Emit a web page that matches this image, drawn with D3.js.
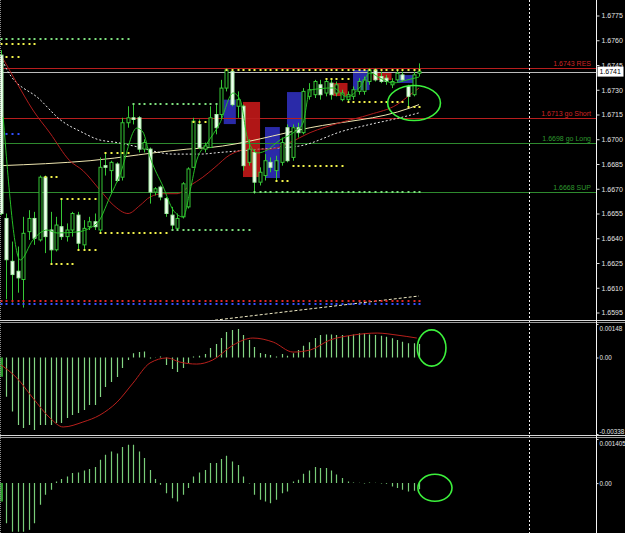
<!DOCTYPE html>
<html>
<head>
<meta charset="utf-8">
<script src="https://cdn.jsdelivr.net/npm/d3@7"></script>
<style>
  html, body { margin: 0; padding: 0; background: #000; }
  svg { display: block; }
  text { font-family: "Liberation Sans", Arial, sans-serif; font-size: 7px; }
</style>
</head>
<body>
<div id="chart"></div>
<script>
// ---- price bars ----
const opens = [1.6751,1.6652,1.6626,1.6620,1.6615,1.6644,1.6652,1.6639,1.6677,1.6645,
  1.6633,1.6647,1.6641,1.6645,1.6654,1.6636,1.6647,1.6650,1.6645,1.6684,
  1.6681,1.6685,1.6677,1.6710,1.6713,1.6713,1.6694,1.6694,1.6668,1.6671,
  1.6664,1.6654,1.6646,1.6653,1.6659,1.6683,1.6709,1.6694,1.6695,1.6715,
  1.6715,1.6731,1.6741,1.6720,1.6720,1.6686,1.6692,1.6674,1.6678,1.6686,
  1.6681,1.6686,1.6707,1.6689,1.6707,1.6704,1.6726,1.6727,1.6733,1.6728,
  1.6734,1.6728,1.6724,1.6724,1.6726,1.6729,1.6729,1.6735,1.6742,1.6738,
  1.6737,1.6733,1.6736,1.6739,1.6732,1.6727,1.6740];
const highs = [1.6754,1.6655,1.6638,1.6635,1.6653,1.6657,1.6656,1.6678,1.6678,1.6656,
  1.6653,1.6664,1.6649,1.6656,1.6656,1.6651,1.6653,1.6655,1.6689,1.6692,
  1.6687,1.6686,1.6713,1.6720,1.6721,1.6714,1.6700,1.6695,1.6671,1.6672,
  1.6665,1.6659,1.6655,1.6674,1.6683,1.6713,1.6712,1.6698,1.6720,1.6721,
  1.6736,1.6743,1.6742,1.6729,1.6721,1.6700,1.6694,1.6683,1.6691,1.6689,
  1.6690,1.6701,1.6709,1.6709,1.6710,1.6731,1.6734,1.6736,1.6736,1.6737,
  1.6736,1.6735,1.6730,1.6729,1.6732,1.6737,1.6738,1.6743,1.6743,1.6741,
  1.6739,1.6737,1.6742,1.6741,1.6733,1.6741,1.6746];
const lows = [1.6654,1.6603,1.6601,1.6607,1.6598,1.6639,1.6636,1.6638,1.6631,1.6624,
  1.6632,1.6639,1.6638,1.6641,1.6633,1.6633,1.6645,1.6645,1.6643,1.6678,
  1.6667,1.6674,1.6675,1.6707,1.6709,1.6692,1.6692,1.6661,1.6666,1.6663,
  1.6653,1.6645,1.6645,1.6652,1.6658,1.6683,1.6694,1.6692,1.6695,1.6703,
  1.6712,1.6729,1.6720,1.6713,1.6681,1.6684,1.6667,1.6672,1.6675,1.6680,
  1.6675,1.6684,1.6686,1.6687,1.6701,1.6703,1.6724,1.6725,1.6724,1.6726,
  1.6724,1.6726,1.6723,1.6722,1.6724,1.6727,1.6727,1.6733,1.6735,1.6734,
  1.6733,1.6731,1.6735,1.6735,1.6720,1.6726,1.6738];
const closes = [1.6655,1.6627,1.6618,1.6616,1.6643,1.6652,1.6640,1.6677,1.6641,1.6633,
  1.6648,1.6641,1.6645,1.6655,1.6637,1.6646,1.6650,1.6647,1.6683,1.6683,
  1.6686,1.6675,1.6710,1.6713,1.6712,1.6694,1.6698,1.6668,1.6670,1.6665,
  1.6655,1.6648,1.6652,1.6673,1.6682,1.6711,1.6695,1.6696,1.6713,1.6707,
  1.6731,1.6742,1.6721,1.6724,1.6684,1.6694,1.6674,1.6680,1.6687,1.6683,
  1.6687,1.6698,1.6687,1.6707,1.6704,1.6729,1.6730,1.6735,1.6727,1.6735,
  1.6727,1.6733,1.6728,1.6727,1.6730,1.6735,1.6736,1.6742,1.6736,1.6735,
  1.6735,1.6735,1.6740,1.6736,1.6726,1.6739,1.6741];

// moving averages, as [bar, price] points
const fastMa = [[0.4,1.67135],[3.5,1.66268],[5.8,1.66389],[8.4,1.6645],[10.2,1.66432],[13.8,1.66438],
  [17.5,1.66492],[19.8,1.6665],[21.6,1.66783],[24.7,1.67068],[25.8,1.67044],[27.1,1.66892],
  [29.5,1.66711],[31.3,1.66571],[33.1,1.66529],[34.4,1.66692],[35.6,1.66874],[37.5,1.66977],
  [39.8,1.67098],[42.2,1.6728],[43.5,1.67238],[44.9,1.66995],[46.7,1.66917],[48.4,1.66935],
  [50.7,1.66995],[53.1,1.67038],[54.9,1.67098],[56.2,1.67298],[60.4,1.67311],[62.9,1.67256],
  [65.3,1.67317],[67.1,1.67402],[68.9,1.67371],[71.3,1.67341],[73.8,1.67359],[76,1.67377]];
const redMa = [[0,1.6751],[2.9,1.6734],[5.8,1.67177],[8.9,1.67038],[12.5,1.6687],[14.9,1.6681],
  [18,1.66692],[20.4,1.66602],[23.1,1.6655],[25.3,1.6660],[27.1,1.6665],[29.5,1.6667],
  [32,1.6667],[34.4,1.6672],[36.7,1.6677],[38.9,1.6683],[41.6,1.66905],[45.3,1.6694],
  [48.9,1.6694],[52.5,1.6698],[56.2,1.6704],[61.6,1.6710],[67.1,1.6715],[72,1.6721],
  [74.4,1.6727],[76,1.6731]];
const dashMa = [[0,1.6750],[1.1,1.6742],[7.1,1.6724],[10.7,1.6712],[14.9,1.6704],[17.5,1.6700],
  [21.1,1.6698],[24,1.6696],[31.3,1.6691],[36.2,1.6691],[39.8,1.6692],[47.1,1.6694],
  [54.4,1.6696],[62.2,1.6705],[67.1,1.6709],[72.5,1.6713],[76,1.6716]];
const slowMa = [[0,1.6684],[16.2,1.6687],[33.8,1.6694],[38,1.6695],[56.2,1.6707],[74.4,1.6719],[76,1.6721]];
const trendLine = [[38,1.6590],[76,1.6605]];

// dotted level buffers: [fromBar, toBar, price, kind]
const dotLevels = [
  [0,23,1.67605,'green'],[24,39,1.67214,'green'],[31,45,1.6645,'green'],[46,76,1.6668,'green'],
  [0,6,1.67577,'yellow'],[1,3,1.67498,'yellow'],[8,10,1.66771,'yellow'],[11,17,1.66638,'yellow'],
  [18,30,1.66432,'yellow'],[14,17,1.66329,'yellow'],[9,13,1.66244,'yellow'],[19,23,1.66917,'yellow'],
  [35,37,1.67105,'yellow'],[41,76,1.6742,'yellow'],[59,63,1.67365,'yellow'],[63,73,1.67226,'yellow'],
  [74,76,1.67195,'yellow'],[53,62,1.66838,'yellow'],[50,52,1.66747,'yellow'],
  [0,76,1.6602,'red'],[0,76,1.66002,'blue'],[1,3,1.67032,'blue']
];

// range boxes: [fromBar, toBar, top, bottom, kind]
const boxes = [
  [40.5,42.7,1.6724,1.67092,'blue'],[44,47.1,1.67226,1.66771,'red'],[48,50.7,1.67074,1.66765,'blue'],
  [52,54.7,1.67286,1.67074,'blue'],[60.4,63,1.67341,1.67262,'red'],[64,67,1.6742,1.67298,'blue'],
  [67.6,71,1.67408,1.67359,'red'],[72,75,1.67389,1.67341,'blue']
];

const levels = [
  { price: 1.6743, label: '1.6743 RES', kind: 'red' },
  { price: 1.6713, label: '1.6713 go Short', kind: 'red' },
  { price: 1.6698, label: '1.6698 go Long', kind: 'green' },
  { price: 1.6668, label: '1.6668 SUP', kind: 'green' }
];
const bidPrice = 1.6741;
const priceTicks = [1.6595,1.6610,1.6625,1.6640,1.6655,1.6670,1.6685,1.6700,1.6715,1.6730,1.6745,1.6760,1.6775];

// oscillator 1 (histogram + signal)
const macdHist = [-0.00085,-0.00173,-0.00239,-0.00298,-0.00311,-0.00298,-0.00320,-0.00298,-0.00298,-0.00298,
  -0.00289,-0.00289,-0.00267,-0.00254,-0.00245,-0.00232,-0.00210,-0.00210,-0.00174,-0.00130,
  -0.00108,-0.00086,-0.00046,-0.00011,0.00019,0.00024,0.00026,-0.00004,0.00001,0.00004,
  -0.00033,-0.00051,-0.00064,-0.00046,-0.00024,0.00004,0.00008,0.00015,0.00042,0.00060,
  0.00086,0.00113,0.00121,0.00126,0.00099,0.00077,0.00046,0.00020,0.00015,0.00011,
  0.00004,0.00015,0.00008,0.00019,0.00033,0.00052,0.00067,0.00086,0.00099,0.00102,
  0.00102,0.00099,0.00099,0.00096,0.00102,0.00107,0.00107,0.00102,0.00099,0.00096,
  0.00092,0.00085,0.00077,0.00070,0.00063,0.00063,0.00060];
const macdSignal = [[0,-0.00033],[2.9,-0.00091],[5.8,-0.00179],[8.9,-0.00267],[11.3,-0.00307],
  [14.9,-0.00285],[18,-0.00254],[21.1,-0.00197],[24,-0.00113],[27.1,-0.00024],[30.2,-0.00002],
  [32.5,-0.00020],[35.6,-0.00029],[38.5,-0.00011],[42.2,0.00055],[45.8,0.00086],[49.5,0.00068],
  [53.1,0.00024],[56.2,0.00033],[59.8,0.00077],[64,0.00099],[68.4,0.00108],[72,0.00099],[75.6,0.00086]];
const macdTicks = [0.00148, 0, -0.00338];
const macdLabels = ['0.00148', '0.00', '-0.00338'];

// oscillator 2 (histogram)
const oscHist = [-0.00059,-0.00128,-0.00155,-0.00155,-0.00155,-0.00149,-0.00128,-0.00069,-0.00037,-0.00021,
  0.00005,0.00013,0.00021,0.00032,0.00034,0.00040,0.00045,0.00051,0.00074,0.00090,
  0.00101,0.00094,0.00115,0.00122,0.00122,0.00101,0.00080,0.00042,0.00013,-0.00005,
  -0.00032,-0.00048,-0.00059,-0.00037,-0.00016,0.00021,0.00034,0.00042,0.00064,0.00064,
  0.00077,0.00087,0.00069,0.00058,0.00021,-0.00001,-0.00037,-0.00053,-0.00059,-0.00064,
  -0.00053,-0.00032,-0.00027,0.00005,0.00011,0.00030,0.00040,0.00051,0.00048,0.00048,
  0.00040,0.00027,0.00016,0.00005,0.00002,0.00001,-0.00001,0.00002,0.00001,-0.00001,
  -0.00002,-0.00011,-0.00016,-0.00021,-0.00027,-0.00024,-0.00020];
const oscTicks = [0.001405, 0];
const oscLabels = ['0.001405', '0.00'];

// highlight ellipses: [panel, bar, value, rBars, rValue]
const marks = [
  ['main', 75.1, 1.6722, 4.8, 0.00106],
  ['macd', 78.3, 0.00042, 2.6, 0.0008],
  ['osc', 78.9, -0.00015, 3.1, 0.00043]
];
const separatorBar = 96;

// ---- drawing ----
const W = 625, H = 533, AXIS_X = 596.5;
const colors = {
  green: '#7ee07e', yellow: '#f2f24a', red: '#e02828', blue: '#3050ff',
  boxBlue: '#2a2aa8', boxRed: '#b01616',
  lineRed: '#b81e1e', lineGreen: '#2e8a2e', textRed: '#d02424', textGreen: '#2f9a2f'
};

const svg = d3.select('#chart').append('svg').attr('width', W).attr('height', H)
  .style('background', '#000');

const x = d3.scaleLinear().domain([0, 96]).range([1, 529]);
const yMain = d3.scaleLinear().domain([1.6595, 1.6775]).range([312.5, 15.5]);
const yMacd = d3.scaleLinear().domain([-0.00338, 0.00148]).range([434, 324]);
const yOsc = d3.scaleLinear().domain([-0.00159, 0.001405]).range([533, 439]);
const panelY = { main: yMain, macd: yMacd, osc: yOsc };

const defs = svg.append('defs');
defs.append('clipPath').attr('id', 'clipMain').append('rect').attr('x', 0).attr('y', 0).attr('width', AXIS_X).attr('height', 320);
defs.append('clipPath').attr('id', 'clipMacd').append('rect').attr('x', 0).attr('y', 323).attr('width', AXIS_X).attr('height', 112);
defs.append('clipPath').attr('id', 'clipOsc').append('rect').attr('x', 0).attr('y', 439).attr('width', AXIS_X).attr('height', 94);

const main = svg.append('g').attr('clip-path', 'url(#clipMain)');

// boxes behind everything
main.selectAll('.box').data(boxes).enter().append('rect')
  .attr('x', d => x(d[0])).attr('width', d => x(d[1]) - x(d[0]))
  .attr('y', d => yMain(d[2])).attr('height', d => yMain(d[3]) - yMain(d[2]))
  .attr('fill', d => d[4] === 'red' ? colors.boxRed : colors.boxBlue);

// horizontal levels
main.selectAll('.level').data(levels).enter().append('line')
  .attr('x1', 0).attr('x2', AXIS_X)
  .attr('y1', d => Math.round(yMain(d.price)) + 0.5).attr('y2', d => Math.round(yMain(d.price)) + 0.5)
  .attr('stroke', d => d.kind === 'red' ? colors.lineRed : colors.lineGreen).attr('stroke-width', 1);
main.selectAll('.levelText').data(levels).enter().append('text')
  .attr('x', 591).attr('y', d => yMain(d.price) - 2)
  .attr('text-anchor', 'end')
  .attr('fill', d => d.kind === 'red' ? colors.textRed : colors.textGreen)
  .text(d => d.label);
main.append('line').attr('x1', 0).attr('x2', AXIS_X)
  .attr('y1', Math.round(yMain(bidPrice)) + 0.5).attr('y2', Math.round(yMain(bidPrice)) + 0.5)
  .attr('stroke', '#bcbcbc').attr('stroke-width', 1);

// moving averages
const priceLine = d3.line().x(d => x(d[0])).y(d => yMain(d[1])).curve(d3.curveMonotoneX);
main.append('path').attr('d', priceLine(slowMa)).attr('fill', 'none').attr('stroke', '#efe6b0').attr('stroke-width', 1);
main.append('path').attr('d', priceLine(dashMa)).attr('fill', 'none').attr('stroke', '#e8e8e8')
  .attr('stroke-width', 1).attr('stroke-dasharray', '2,2');
main.append('path').attr('d', priceLine(redMa)).attr('fill', 'none').attr('stroke', '#b01c1c').attr('stroke-width', 1);
main.append('path').attr('d', d3.line().x(d => x(d[0])).y(d => yMain(d[1]))(trendLine))
  .attr('fill', 'none').attr('stroke', '#f3eec8').attr('stroke-width', 1).attr('stroke-dasharray', '3,2');

// candles
const bars = d3.range(opens.length).map(i => ({ i, o: opens[i], h: highs[i], l: lows[i], c: closes[i] }));
main.selectAll('.wick').data(bars).enter().append('line')
  .attr('x1', d => Math.round(x(d.i)) + 0.5).attr('x2', d => Math.round(x(d.i)) + 0.5)
  .attr('y1', d => yMain(d.h)).attr('y2', d => yMain(d.l))
  .attr('stroke', '#36c836').attr('stroke-width', 1);
main.selectAll('.body').data(bars).enter().append('rect')
  .attr('x', d => Math.round(x(d.i)) - 1).attr('width', 3)
  .attr('y', d => yMain(Math.max(d.o, d.c)))
  .attr('height', d => Math.max(1, Math.abs(yMain(d.o) - yMain(d.c))))
  .attr('fill', d => d.c > d.o ? '#000' : '#f2fff2')
  .attr('stroke', d => d.c > d.o ? '#36c836' : '#a8eea8').attr('stroke-width', 1);

main.append('path').attr('d', priceLine(fastMa)).attr('fill', 'none').attr('stroke', '#26c026').attr('stroke-width', 1);

// dotted level buffers
const dots = [];
dotLevels.forEach(s => d3.range(s[0], s[1] + 1).forEach(i => dots.push({ i, p: s[2], kind: s[3] })));
main.selectAll('.dot').data(dots).enter().append('rect')
  .attr('x', d => Math.round(x(d.i)) - 0.5).attr('y', d => Math.round(yMain(d.p)) - 1)
  .attr('width', 2).attr('height', 2)
  .attr('fill', d => colors[d.kind]);

// oscillator 1
const macd = svg.append('g').attr('clip-path', 'url(#clipMacd)');
macd.selectAll('.hist').data(macdHist).enter().append('line')
  .attr('x1', (d, i) => Math.round(x(i)) + 0.5).attr('x2', (d, i) => Math.round(x(i)) + 0.5)
  .attr('y1', yMacd(0)).attr('y2', d => yMacd(d))
  .attr('stroke', (d, i) => i === 0 ? '#2e9a2e' : '#84d684').attr('stroke-width', (d, i) => i === 0 ? 3 : 1.2);
macd.append('path')
  .attr('d', d3.line().x(d => x(d[0])).y(d => yMacd(d[1])).curve(d3.curveMonotoneX)(macdSignal))
  .attr('fill', 'none').attr('stroke', '#b8201c').attr('stroke-width', 1);

// oscillator 2
const osc = svg.append('g').attr('clip-path', 'url(#clipOsc)');
osc.selectAll('.hist').data(oscHist).enter().append('line')
  .attr('x1', (d, i) => Math.round(x(i)) + 0.5).attr('x2', (d, i) => Math.round(x(i)) + 0.5)
  .attr('y1', yOsc(0)).attr('y2', d => yOsc(d))
  .attr('stroke', (d, i) => i === 0 ? '#2e9a2e' : '#78cc78').attr('stroke-width', (d, i) => i === 0 ? 3 : 1.2);

// highlight ellipses
svg.selectAll('.mark').data(marks).enter().append('ellipse')
  .attr('cx', d => x(d[1])).attr('cy', d => panelY[d[0]](d[2]))
  .attr('rx', d => x(d[1] + d[3]) - x(d[1]))
  .attr('ry', d => Math.abs(panelY[d[0]](d[2] + d[4]) - panelY[d[0]](d[2])))
  .attr('fill', 'none').attr('stroke', '#3cf03c').attr('stroke-width', 1.6);

// vertical separators
svg.append('line').attr('x1', Math.round(x(separatorBar)) + 0.5).attr('x2', Math.round(x(separatorBar)) + 0.5)
  .attr('y1', 0).attr('y2', H).attr('stroke', '#f0f0f0').attr('stroke-dasharray', '2,2');
svg.append('line').attr('x1', 0.5).attr('x2', 0.5).attr('y1', 0).attr('y2', H)
  .attr('stroke', '#8a8a8a').attr('stroke-dasharray', '1,1');

// panel borders
[320.5, 322.5, 435.5, 437.5].forEach((yy, k) => {
  svg.append('line').attr('x1', 0).attr('x2', W).attr('y1', yy).attr('y2', yy)
    .attr('stroke', k % 2 === 0 ? '#d8d8d8' : '#9a9a9a').attr('stroke-width', 1);
});
svg.append('line').attr('x1', AXIS_X).attr('x2', AXIS_X).attr('y1', 0).attr('y2', H)
  .attr('stroke', '#f4f4f4').attr('stroke-width', 1);

// axes
function styleAxis(g, size) {
  g.select('.domain').remove();
  g.selectAll('line').attr('stroke', '#dcdcdc');
  g.selectAll('text').attr('fill', '#e4e4e4')
    .style('font-family', '"Liberation Sans", Arial, sans-serif').style('font-size', size + 'px');
}
svg.append('g').attr('transform', `translate(${AXIS_X},0)`)
  .call(d3.axisRight(yMain).tickValues(priceTicks).tickFormat(d3.format('.4f')).tickSize(3).tickPadding(2))
  .call(styleAxis, 7);
svg.append('g').attr('transform', `translate(${AXIS_X},0)`)
  .call(d3.axisRight(yMacd).tickValues(macdTicks).tickFormat((d, i) => macdLabels[i]).tickSize(2).tickPadding(1))
  .call(styleAxis, 6.3)
  .call(g => g.selectAll('.tick').filter(d => d === 0.00148).select('text').attr('dy', '0.95em'))
  .call(g => g.selectAll('.tick').filter(d => d === -0.00338).select('text').attr('dy', '-0.15em'));
svg.append('g').attr('transform', `translate(${AXIS_X},0)`)
  .call(d3.axisRight(yOsc).tickValues(oscTicks).tickFormat((d, i) => oscLabels[i]).tickSize(2).tickPadding(1))
  .call(styleAxis, 6.3)
  .call(g => g.selectAll('.tick').filter(d => d === 0.001405).select('text').attr('dy', '0.95em'));

// current price tag
const bidY = yMain(bidPrice);
svg.append('rect').attr('x', AXIS_X + 1).attr('y', bidY - 5).attr('width', 26).attr('height', 10).attr('fill', '#fff');
svg.append('text').attr('x', AXIS_X + 3).attr('y', bidY + 2.5).attr('fill', '#000').text(d3.format('.4f')(bidPrice));
</script>
</body>
</html>
